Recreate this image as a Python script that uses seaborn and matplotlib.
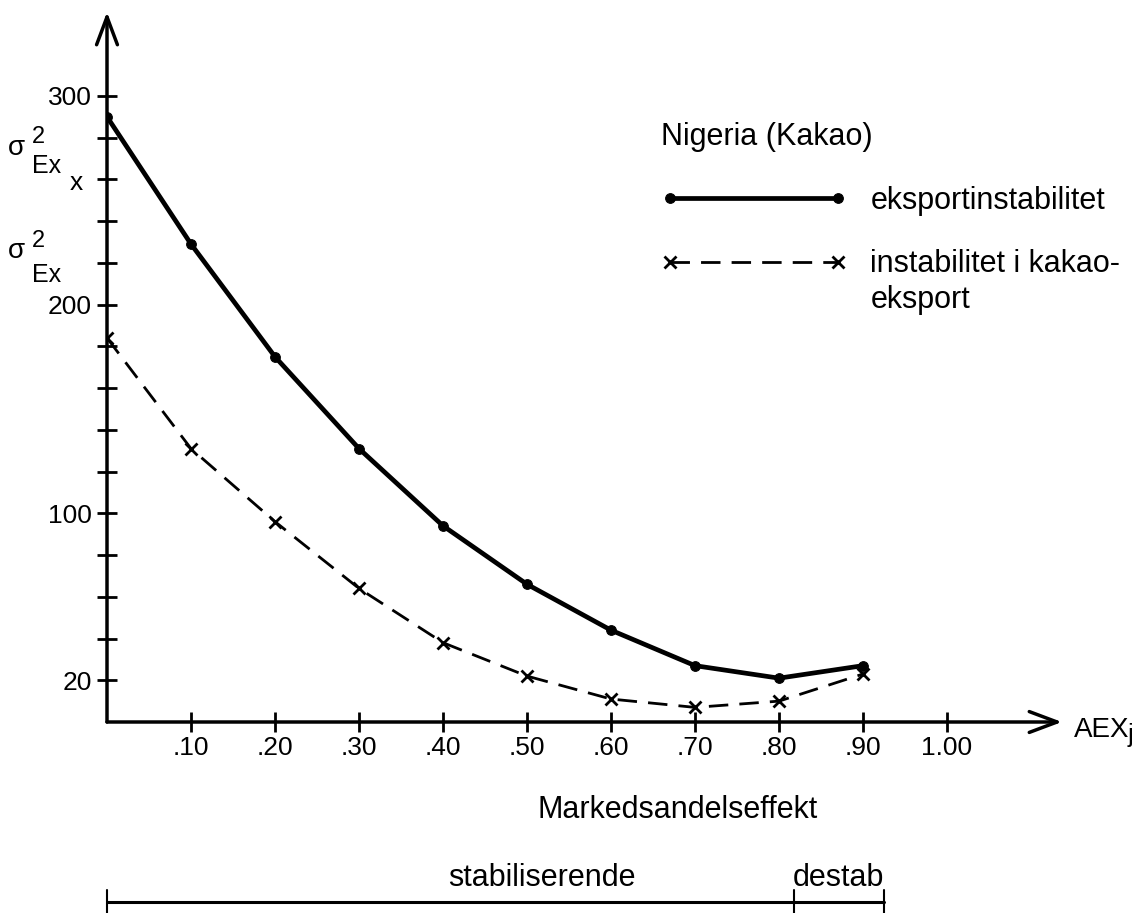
import matplotlib
matplotlib.use("Agg")
import matplotlib.pyplot as plt
import matplotlib.transforms as mtransforms
import seaborn as sns

# markedsandelseffekt (AEX_j) og varians i eksporten
aex = [0.0, 0.1, 0.2, 0.3, 0.4, 0.5, 0.6, 0.7, 0.8, 0.9]
eksport_total = [290, 229, 175, 131, 94, 66, 44, 27, 21, 27]
eksport_kakao = [184, 131, 96, 64, 38, 22, 11, 7, 10, 23]

x_ticks = [0.1, 0.2, 0.3, 0.4, 0.5, 0.6, 0.7, 0.8, 0.9, 1.0]
x_tick_labels = [".10", ".20", ".30", ".40", ".50", ".60", ".70", ".80", ".90", "1.00"]
y_ticks = [20, 40, 60, 80, 100, 120, 140, 160, 180, 200, 220, 240, 260, 280, 300]
y_tick_labels = ["20", "", "", "", "100", "", "", "", "", "200", "", "", "", "", "300"]

# grenser for stabiliserende / destabiliserende omraade
stab_end = 0.818
destab_end = 0.925

sns.set_theme(style="white")
plt.rcParams["font.family"] = ["Liberation Sans", "DejaVu Sans"]
plt.rcParams["text.color"] = "black"
plt.rcParams["axes.labelcolor"] = "black"

W, H = 1144, 913
fig = plt.figure(figsize=(W / 100, H / 100), dpi=100)


def fx(px):
    return px / W


def fy(py):
    return 1 - py / H


ax = fig.add_axes([fx(107), fy(722), fx(1062) - fx(107), fy(12) - fy(722)])

sns.lineplot(x=aex, y=eksport_total, ax=ax, color="black", lw=3.4,
             marker="o", markersize=7, markeredgecolor="black",
             label="eksportinstabilitet")
sns.lineplot(x=aex, y=eksport_kakao, ax=ax, color="black", lw=2,
             linestyle=(0, (7, 4)), marker="x", markersize=9,
             markeredgewidth=2, markeredgecolor="black",
             label="instabilitet i kakao-")

ax.set_xlim(0, (1062 - 107) / 840)
ax.set_ylim(0, (722 - 12) / 2.087)
ax.set_xticks(x_ticks, x_tick_labels)
ax.set_yticks(y_ticks, y_tick_labels)
ax.tick_params(axis="both", direction="inout", length=14, width=2, color="black",
               labelsize=19, labelcolor="black", bottom=True, left=True)
ax.tick_params(axis="x", pad=3)
ax.tick_params(axis="y", pad=4)
for s in ax.spines.values():
    s.set_visible(False)
ax.set_xlabel("")
ax.set_ylabel("")

# akser med piler
arrow = dict(arrowstyle="->,head_length=0.4,head_width=0.15", lw=2.5, color="black",
             shrinkA=0, shrinkB=0, mutation_scale=50)
ax.annotate("", xy=(1, 0), xytext=(0, 0), xycoords="axes fraction",
            arrowprops=arrow, annotation_clip=False)
ax.annotate("", xy=(0, 1), xytext=(0, 0), xycoords="axes fraction",
            arrowprops=arrow, annotation_clip=False)

# legend
leg = ax.legend(title="Nigeria (Kakao)", loc="upper left",
                bbox_to_anchor=(fx(661), fy(122)), bbox_transform=fig.transFigure,
                frameon=False, numpoints=2, handlelength=6.1, handletextpad=0.75,
                labelspacing=1.1, fontsize=22, title_fontsize=22, alignment="left",
                borderpad=0, borderaxespad=0)
for t in leg.get_texts():
    t.set_color("black")
leg.get_title().set_color("black")
ax.annotate("eksport", xy=(0, 0), xycoords=leg.get_texts()[1], xytext=(0, -4),
            textcoords="offset points", ha="left", va="top", fontsize=22,
            color="black", zorder=10)

# y-akse tekst
fig.text(fx(8), fy(155), "σ", fontsize=20, ha="left", va="baseline")
fig.text(fx(32), fy(143), "2", fontsize=17, ha="left", va="baseline")
fig.text(fx(32), fy(173), "Ex", fontsize=18, ha="left", va="baseline")
fig.text(fx(70), fy(190), "x", fontsize=19, ha="left", va="baseline")
fig.text(fx(8), fy(258), "σ", fontsize=20, ha="left", va="baseline")
fig.text(fx(32), fy(247), "2", fontsize=17, ha="left", va="baseline")
fig.text(fx(32), fy(282), "Ex", fontsize=18, ha="left", va="baseline")

# x-akse tekst
fig.text(fx(1074), fy(737), "AEX", fontsize=20, ha="left", va="baseline")
fig.text(fx(1128), fy(742), "j", fontsize=18, ha="left", va="baseline")
fig.text(fx(678), fy(818), "Markedsandelseffekt", fontsize=22, ha="center", va="baseline")
fig.text(fx(542), fy(886), "stabiliserende", fontsize=22, ha="center", va="baseline")
fig.text(fx(838), fy(886), "destab", fontsize=22, ha="center", va="baseline")

# klamme under aksen
trans = mtransforms.blended_transform_factory(ax.transData, fig.transFigure)
ax.plot([0, destab_end], [fy(902), fy(902)], transform=trans, color="black",
        lw=2.2, clip_on=False)
for xb in [0, stab_end, destab_end]:
    ax.plot([xb, xb], [fy(890), fy(914)], transform=trans, color="black",
            lw=1.5, clip_on=False)

fig.savefig("out.png", dpi=100)
